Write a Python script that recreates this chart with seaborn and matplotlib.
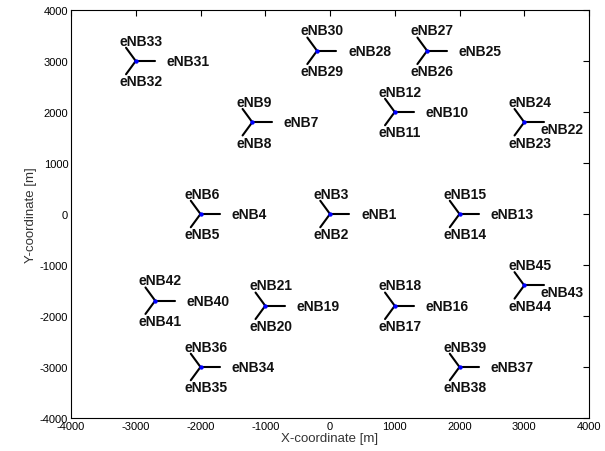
import numpy as np
import pandas as pd
import matplotlib
matplotlib.use("Agg")
import matplotlib.pyplot as plt
import seaborn as sns

# Site (eNB triplet) centre coordinates in metres
site_x = [0, -2000, -1200, 1000, 2000, 1000, -1000, 3000, 1500, -200, -3000, -2000, 2000, -2700, 3000]
site_y = [0, 0, 1800, 2000, 0, -1800, -1800, 1800, 3200, 3200, 3000, -3000, -3000, -1700, -1400]
# Sector azimuths (degrees) and sector line length (m)
sector_angles = [0, 240, 120]
sector_len = 300
# Cell labels, three per site (right, lower, upper)
cell_labels = [f"eNB{i}" for i in range(1, 46)]
x_ticks = [-4000, -3000, -2000, -1000, 0, 1000, 2000, 3000, 4000]
y_ticks = [-4000, -3000, -2000, -1000, 0, 1000, 2000, 3000, 4000]

sns.set_theme(style="white")
plt.rcParams['font.family'] = ['Liberation Sans', 'DejaVu Sans']

fig = plt.figure(figsize=(6.05, 4.52), dpi=100)
ax = fig.add_axes([71/605, 1-419/452, 518/605, 408/452])

rows = []
for s, (cx, cy) in enumerate(zip(site_x, site_y)):
    for k, a in enumerate(sector_angles):
        seg = s * 3 + k
        ex = cx + sector_len * np.cos(np.radians(a))
        ey = cy + sector_len * np.sin(np.radians(a))
        rows.append({"seg": seg, "x": cx, "y": cy})
        rows.append({"seg": seg, "x": ex, "y": ey})
seg_df = pd.DataFrame(rows)

sns.lineplot(data=seg_df, x="x", y="y", units="seg", estimator=None, sort=False,
             color="black", linewidth=1.5, ax=ax, legend=False)
sns.scatterplot(x=site_x, y=site_y, color="#0000ff", s=10, edgecolor="#0000ff",
                linewidth=0, ax=ax, zorder=5, legend=False)

edge_sites = {7, 14}
tkw = dict(fontsize=10, fontweight="bold", color="#111111", ha="left", va="center")
for s, (cx, cy) in enumerate(zip(site_x, site_y)):
    lr, llo, lup = cell_labels[3*s], cell_labels[3*s+1], cell_labels[3*s+2]
    if s in edge_sites:
        ax.text(cx + 250, cy - 130, lr, **tkw)
    else:
        ax.text(cx + 480, cy, lr, **tkw)
    ax.text(cx - 250, cy - 400, llo, **tkw)
    ax.text(cx - 250, cy + 400, lup, **tkw)

ax.set_xlim(-4000, 4000)
ax.set_ylim(-4000, 4000)
ax.set_xticks(x_ticks)
ax.set_yticks(y_ticks)
ax.set_xticklabels([str(t) for t in x_ticks])
ax.set_yticklabels([str(t) for t in y_ticks])
ax.tick_params(direction="in", length=4, width=0.8, labelsize=8, colors="black",
               top=True, right=True, pad=2)
for sp in ax.spines.values():
    sp.set_visible(True)
    sp.set_color("black")
    sp.set_linewidth(0.8)
ax.set_xlabel("X-coordinate [m]", fontsize=9.5, color="#333333", labelpad=1)
ax.set_ylabel("Y-coordinate [m]", fontsize=9.5, color="#333333", labelpad=2)
ax.grid(False)

fig.savefig("out.png", dpi=100, facecolor="white")
